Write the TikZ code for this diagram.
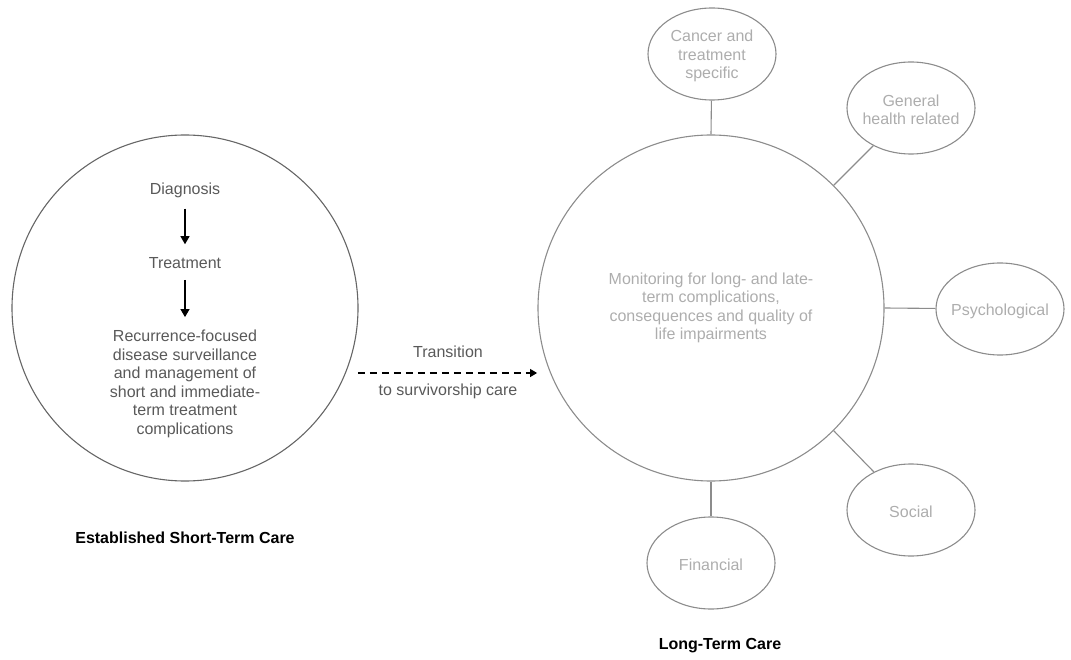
\documentclass[tikz,border=0pt]{standalone}
\usepackage{fontspec}
\setmainfont{Liberation Sans}
\usetikzlibrary{arrows.meta,shapes.geometric}
\definecolor{rimdark}{gray}{0.40}
\definecolor{rimsoft}{gray}{0.55}
\definecolor{inkgray}{gray}{0.35}
\definecolor{palegray}{gray}{0.68}
\tikzset{every node/.style={font=\fontsize{16}{18.5}\selectfont}}

\begin{document}
\begin{tikzpicture}[x=1pt,y=-1pt,
            phase/.style={circle,draw,line width=1.1pt,minimum size=346pt,inner sep=0pt},
            satellite/.style={ellipse,draw=rimsoft,line width=1.1pt,minimum width=128pt,minimum height=92pt,inner sep=0pt},
            sattext/.style={text=palegray,align=center,yshift=-2pt},
            flowtext/.style={text=inkgray,align=center,inner sep=0pt},
            steparrow/.style={line width=1.1pt,-{Triangle[width=9pt,length=8pt]},shorten <=11pt,shorten >=13pt},
            transarrow/.style={line width=1.1pt,dash pattern=on 7pt off 5pt,-{Triangle[width=8pt,length=7pt]},shorten <=12pt,shorten >=13pt},
            spoke/.style={draw=rimsoft,line width=1.1pt},
            caption/.style={font=\fontsize{16}{18.5}\selectfont\bfseries}
            ]
            \useasboundingbox (0,0) rectangle (1071,660);
            \node[phase,draw=rimdark] (short) at (185,308) {};
            \node[flowtext] (diagnosis) at (185,190) {Diagnosis};
            \node[flowtext] (treatment) at (185,263) {Treatment};
            \node[flowtext] (surveillance) at (185,384) {Recurrence-focused\\disease surveillance\\and management of\\short and immediate-\\term treatment\\complications};
            \draw[steparrow] (diagnosis) -- (treatment);
            \draw[steparrow] (treatment) -- (surveillance);
            \node[caption] (shortcap) at (185,538) {Established Short-Term Care};

            \node[phase,draw=rimsoft,text=palegray,align=center] (long) at (711,308) {Monitoring for long- and late-\\term complications,\\consequences and quality of\\life impairments};
            \node[satellite,label={[sattext]center:Cancer and\\treatment\\specific}] (cancer) at (712,54) {};
            \node[satellite,label={[sattext]center:General\\health related}] (general) at (911,108) {};
            \node[satellite,label={[sattext]center:Psychological}] (psych) at (1000,309) {};
            \node[satellite,label={[sattext]center:Social}] (social) at (911,510) {};
            \node[satellite,label={[sattext]center:Financial}] (financial) at (711,563) {};
            \foreach \ang/\sat in {90/cancer,45/general,0/psych,-45/social,-90/financial}
                \draw[spoke] (long.\ang) -- (\sat);
            \node[caption] (longcap) at (720,646) {Long-Term Care};

            \draw[transarrow] (short.-22) -- (long.202)
                node[midway,above=11pt,text=inkgray] {Transition}
                node[midway,below=7pt,text=inkgray] {to survivorship care};
        \end{tikzpicture}
\end{document}
